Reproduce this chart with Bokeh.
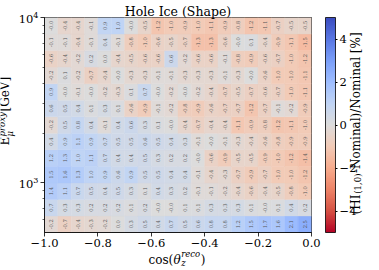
import numpy as np
from bokeh.plotting import figure
from bokeh.layouts import column
from bokeh.models import (ColumnDataSource, LinearColorMapper, ColorBar, FixedTicker,
                          CustomJSTickFormatter, LogTickFormatter, Range1d, Label)
from bokeh.transform import transform
from bokeh.core.properties import value
from bokeh.embed import file_html
from bokeh.resources import INLINE

# ---------------- data ----------------
cos_edges = [-1.0, -0.95, -0.9, -0.85, -0.8, -0.75, -0.7, -0.65, -0.6, -0.55, -0.5,
             -0.45, -0.4, -0.35, -0.3, -0.25, -0.2, -0.15, -0.1, -0.05, 0.0]
log10_energy_edges = [2.7, 2.8, 2.9, 3.0, 3.1, 3.2, 3.3, 3.4, 3.5, 3.6, 3.7, 3.8, 3.9, 4.0]

# relative difference [%] per energy bin (lowest energy first), columns = cos bins
bin_01 = [-0.2, -0.7, -0.4, -0.3, -0.2, 0.0, 0.3, 0.5, 0.4, 0.7, 0.5, 0.6, 0.8, 0.8, 1.2, 1.5, 1.7, 1.6, 2.1, 2.5]
bin_02 = [0.7, 0.3, 0.3, 0.2, 0.2, 0.2, 0.1, 0.2, -0.0, -0.0, 0.1, 0.1, 0.3, 0.3, 0.3, 0.1, -0.0, 0.1, 0.4, 0.2]
bin_03 = [1.4, 1.1, 0.7, 0.5, 0.4, 0.5, 0.3, 0.1, 0.4, 0.3, 0.2, -0.1, -0.1, -0.2, -0.4, -0.6, -0.4, -0.5, -0.8, -1.0]
bin_04 = [1.5, 1.6, 1.3, 1.0, 0.9, 0.6, 0.9, 0.5, 0.5, 0.4, 0.4, -0.1, -0.4, -0.3, -0.7, -0.9, -0.7, -1.0, -1.0, -1.2]
bin_05 = [1.2, 1.3, 1.0, 1.1, 0.7, 0.4, 0.4, 0.5, 0.3, 0.2, 0.2, -0.0, -0.6, -0.9, -0.5, -0.5, -0.9, -1.0, -1.2, -1.4]
bin_06 = [0.4, 0.9, 1.1, 0.9, 0.7, 0.5, 0.5, 0.6, 0.5, 0.4, 0.3, -0.1, -0.0, -0.1, -0.3, -0.4, -0.6, -0.8, -0.9, -0.9]
bin_07 = [-0.2, 0.5, 0.8, 0.4, -0.1, 0.4, 0.6, 0.3, 0.1, -0.0, -0.4, -0.7, -0.4, -0.4, -1.1, -0.9, -0.8, -1.2, -1.1, -1.0]
bin_08 = [0.6, 0.5, 0.4, 0.1, 0.3, 0.1, -0.6, -0.9, -0.1, -0.2, -0.8, -0.9, -0.6, -0.7, -0.7, -1.2, -0.7, -0.1, -0.2, -0.9]
bin_09 = [0.9, -0.0, -0.1, -0.0, -0.2, -0.3, 0.1, 0.7, -0.0, -0.2, -0.0, -0.2, -0.4, -0.7, -0.5, -0.7, -0.6, -0.7, -1.0, -1.1]
bin_10 = [-0.2, 0.1, -0.2, -0.7, -0.4, -0.0, -0.3, -0.3, -0.1, -0.1, -0.3, -0.3, -0.3, -0.1, -0.3, -0.0, -0.6, -1.0, -1.0, -1.1]
bin_11 = [-0.6, -0.4, -0.2, 0.2, 0.0, -0.4, -0.5, -0.6, -0.6, 0.6, -0.2, -0.6, -0.6, -0.1, -0.8, -0.9, -0.6, -0.7, -1.0, -1.2]
bin_12 = [-0.1, -0.1, -0.4, -0.1, 0.4, -0.1, -0.8, -1.0, -0.6, -0.5, -0.7, -1.3, -1.3, -0.6, -0.0, 0.1, -0.4, -0.9, -1.1, -1.5]
bin_13 = [-0.0, -0.4, -0.4, -0.1, 0.9, 1.0, -0.0, -0.5, -1.2, -1.0, -0.9, -1.0, -1.1, -0.9, -0.8, -1.2, -1.1, -0.7, -0.5, -0.5]
energy_rows = [bin_01, bin_02, bin_03, bin_04, bin_05, bin_06, bin_07,
               bin_08, bin_09, bin_10, bin_11, bin_12, bin_13]

x_ticks = [-1.0, -0.8, -0.6, -0.4, -0.2, 0.0]
y_major_ticks = [1000, 10000]
y_minor_ticks = [600, 700, 800, 900, 2000, 3000, 4000, 5000, 6000, 7000, 8000, 9000]
cbar_ticks = [-4, -2, 0, 2, 4]
color_low, color_high = -5, 5
title_text = "Hole Ice (Shape)"

# ---------------- colour map (coolwarm, reversed) ----------------
coolwarm_anchor = ['#3b4cc0', '#5977e3', '#7b9ff9', '#9ebeff', '#c0d4f5', '#dddcdc',
                   '#f2cbb7', '#f7ac8e', '#ee8468', '#d65244', '#b40426']
def _hex2rgb(h):
    return np.array([int(h[i:i + 2], 16) for i in (1, 3, 5)], dtype=float)
anc = np.array([_hex2rgb(h) for h in coolwarm_anchor])
pos = np.linspace(0, 1, len(anc))
tt = np.linspace(0, 1, 256)
rgb = np.stack([np.interp(tt, pos, anc[:, k]) for k in range(3)], axis=1)
coolwarm = ['#%02x%02x%02x' % tuple(int(round(c)) for c in row) for row in rgb]
palette = coolwarm[::-1]   # low (negative) -> red, high -> blue
mapper = LinearColorMapper(palette=palette, low=color_low, high=color_high)

# ---------------- build cell table ----------------
L, R, B, T, V, XC, YC, TXT = [], [], [], [], [], [], [], []
for i, row in enumerate(energy_rows):
    e0, e1 = log10_energy_edges[i], log10_energy_edges[i + 1]
    for j, v in enumerate(row):
        L.append(cos_edges[j]); R.append(cos_edges[j + 1])
        B.append(10 ** e0); T.append(10 ** e1)
        V.append(v)
        XC.append(0.5 * (cos_edges[j] + cos_edges[j + 1]))
        YC.append(10 ** (0.5 * (e0 + e1)))
        TXT.append(f"{v:.1f}")
src = ColumnDataSource(dict(left=L, right=R, bottom=B, top=T, val=V, xc=XC, yc=YC, txt=TXT))

SERIF = "DejaVu Serif"
W, H = 379, 270

p = figure(width=W, height=H,
           x_range=Range1d(cos_edges[0], cos_edges[-1]),
           y_range=Range1d(10 ** log10_energy_edges[0], 10 ** log10_energy_edges[-1]),
           y_axis_type="log", output_backend="svg", toolbar_location=None,
           min_border_left=44, min_border_right=68, min_border_top=17, min_border_bottom=38)
p.grid.visible = False
p.outline_line_color = "black"
p.outline_line_width = 0.8
p.background_fill_color = "white"
p.border_fill_color = "white"

p.title.text = title_text
p.title.align = "center"
p.title.text_font = SERIF
p.title.text_font_size = "12.5px"
p.title.text_font_style = "normal"
p.title.text_color = "black"
p.title.standoff = -2

p.quad(left="left", right="right", bottom="bottom", top="top", source=src,
       fill_color=transform("val", mapper), line_color=transform("val", mapper), line_width=0.4)
p.text(x="xc", y="yc", text="txt", source=src, angle=90, angle_units="deg",
       text_align="center", text_baseline="middle", text_font_size="5.2px",
       text_color="#555555", text_font=value(SERIF))

# axes
minus_fmt = CustomJSTickFormatter(code="return (tick < 0 ? '\u2212' : '') + Math.abs(tick).toFixed(1);")
xa = p.xaxis[0]
xa.ticker = FixedTicker(ticks=x_ticks)
xa.formatter = minus_fmt
ya = p.yaxis[0]
ya.ticker = FixedTicker(ticks=y_major_ticks, minor_ticks=y_minor_ticks)
ya.formatter = LogTickFormatter()
for ax in (xa, ya):
    ax.axis_line_color = "black"
    ax.axis_line_width = 0.8
    ax.major_tick_in = 0
    ax.major_tick_out = 4
    ax.major_tick_line_width = 0.8
    ax.minor_tick_in = 0
    ax.minor_tick_out = 2
    ax.minor_tick_line_width = 0.6
    ax.major_label_text_font = SERIF
    ax.major_label_text_font_size = "11.5px"
    ax.major_label_text_color = "black"
    ax.major_label_standoff = 2
xa.minor_tick_line_color = None

# colour bar
cb = ColorBar(color_mapper=mapper, ticker=FixedTicker(ticks=cbar_ticks),
              formatter=CustomJSTickFormatter(code="return (tick < 0 ? '\u2212' : '') + Math.abs(tick).toFixed(0);"),
              width=10, height=215, padding=0, margin=0, location=(14, 0),
              major_tick_in=0, major_tick_out=2, major_tick_line_color="black",
              bar_line_color="black", bar_line_width=0.8, label_standoff=2,
              major_label_text_font=SERIF, major_label_text_font_size="11.5px",
              major_label_text_color="black", background_fill_alpha=0)
p.add_layout(cb, "right")

# ---------------- transparent overlay for the axis labels ----------------
# (frame = whole canvas, pixel coordinates, y downward) so that labels with
# sub/superscripts can sit outside the heat-map frame without being clipped
ov = figure(width=W, height=H, x_range=Range1d(0, W), y_range=Range1d(H, 0),
            output_backend="svg", toolbar_location=None,
            x_axis_location=None, y_axis_location=None, min_border=0)
ov.grid.visible = False
ov.outline_line_color = None
ov.background_fill_color = None
ov.border_fill_color = None
ov.margin = (-H, 0, 0, 0)
for fig in (p, ov):
    if "frame_align" in fig.properties():
        fig.frame_align = False

def piece(text, x, y, size, style="normal", angle=0):
    ov.add_layout(Label(x=x, y=y, text=text, angle=angle, angle_units="deg",
                        text_font=SERIF, text_font_size=size, text_font_style=style,
                        text_color="black", text_align="left", text_baseline="alphabetic"))

# x label: cos(theta_z^reco)
piece("cos(", 148.0, 259, "12px")
piece("θ", 172.9, 259, "12px", "italic")
piece("reco", 180.7, 253, "8.5px", "italic")
piece("z", 180.7, 262, "8.5px", "italic")
piece(")", 200.2, 259, "12px")

# y label: E_mu^proxy [GeV]  (rotated, reading upward)
piece("E", 4.5, 145.0, "12px", angle=90)
piece("proxy", 1.0, 135.9, "8.5px", "italic", angle=90)
piece("μ", 9.5, 135.9, "8.5px", "italic", angle=90)
piece(" [GeV]", 4.5, 111.0, "12px", angle=90)

# colour bar label: (HI_(1,0)-Nominal)/Nominal [%]
piece("(HI", 355.0, 214.0, "12px", angle=90)
piece("(1,0)", 357.5, 193.2, "8.5px", angle=90)
piece("-Nominal)/Nominal [%]", 355.0, 172.6, "12px", angle=90)

layout = column(p, ov, spacing=0)
open("out.html", "w").write(file_html(layout, INLINE))
